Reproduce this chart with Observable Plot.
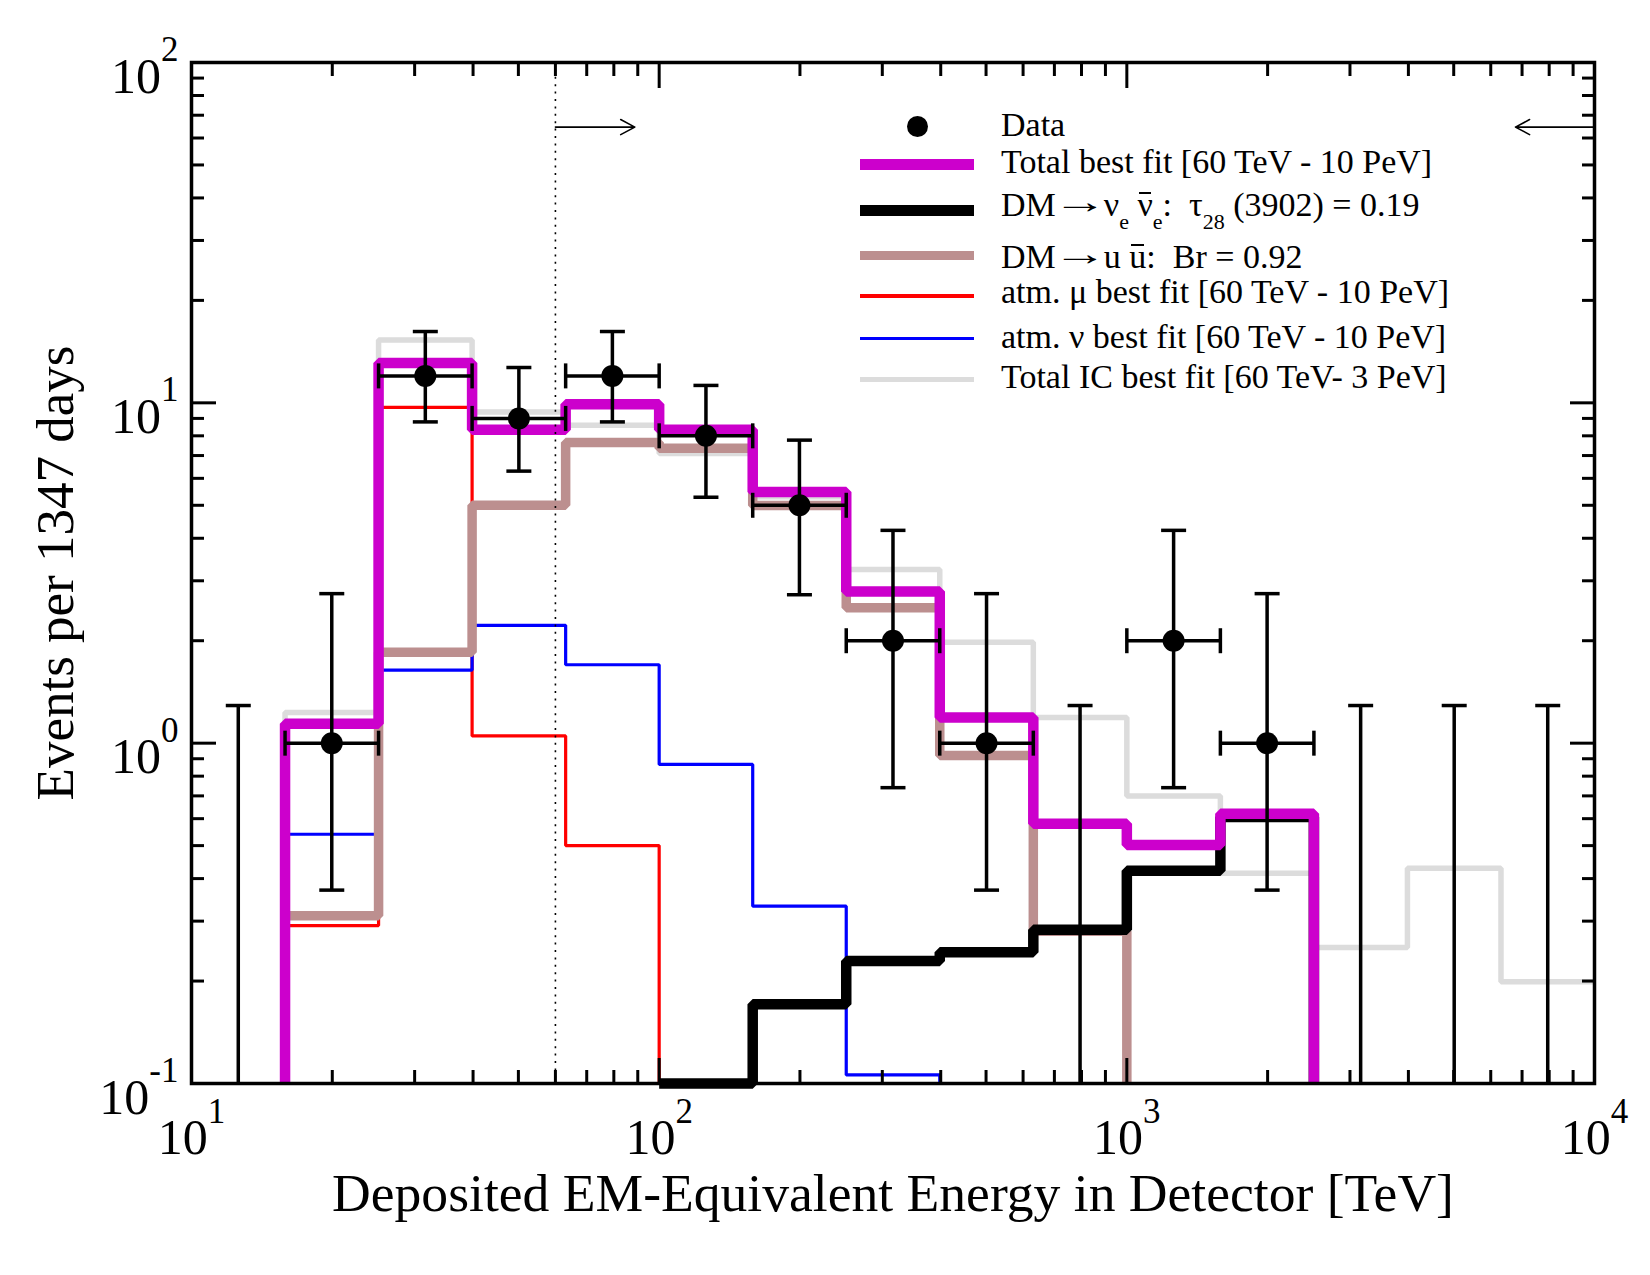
<!DOCTYPE html>
<html>
<head>
<meta charset="utf-8">
<script src="https://cdn.jsdelivr.net/npm/d3@7"></script>
<script src="https://cdn.jsdelivr.net/npm/@observablehq/plot@0.6"></script>
<style>
  html, body { margin: 0; padding: 0; background: #fff; }
  #chart { position: relative; width: 1650px; height: 1275px; font-family: "Liberation Serif", "Times New Roman", serif; }
  #chart svg { display: block; }
  #legend { position: absolute; left: 0; top: 0; width: 1650px; height: 1275px; pointer-events: none; }
  .ltext { position: absolute; left: 1001px; font-size: 34px; line-height: 34px; white-space: pre; color: #000; }
  .swatch { position: absolute; left: 860px; width: 114px; }
  .ldot { position: absolute; border-radius: 50%; background: #000; }
  .sub { font-size: 22px; line-height: 0; position: relative; top: 13px; }
  .arr { display: inline-block; margin: 0 7px; transform: translateY(-3px) scaleX(1.6); transform-origin: 50% 50%; }
  .ov { position: relative; }
  .ov::before { content: ""; position: absolute; left: 12%; right: 12%; top: 6px; border-top: 2.5px solid #000; }
</style>
</head>
<body>
<div id="chart"><div id="legend"></div></div>
<script>
// Energy bin edges [TeV]
const binEdges = [10, 15.85, 25.12, 39.81, 63.10, 100, 158.5, 251.2, 398.1, 631.0, 1000, 1585, 2512, 3981, 6310, 10000];

// Expected events per bin (null = nothing drawn in that bin)
const totalFit = [null, 1.14, 13.1, 8.33, 9.9, 8.33, 5.47, 2.79, 1.19, 0.58, 0.502, 0.62, null, null, null];
const dmNuNu   = [null, null, null, null, null, 0.1, 0.171, 0.229, 0.243, 0.283, 0.422, 0.607, null, null, null];
const dmUU     = [null, 0.311, 1.85, 5.0, 7.65, 7.35, 4.99, 2.50, 0.92, 0.28, null, null, null, null, null];
const atmMu    = [null, 0.291, 9.7, 1.05, 0.50, null, null, null, null, null, null, null, null, null, null];
const atmNu    = [null, 0.54, 1.64, 2.22, 1.70, 0.866, 0.332, 0.106, null, null, null, null, null, null, null];
const icFit    = [null, 1.23, 15.3, 9.4, 8.6, 7.1, 5.3, 3.24, 1.98, 1.19, 0.70, 0.415, 0.251, 0.429, 0.199];

// Observed events (bin centres) with 1-sigma intervals
const dataE  = [12.59, 19.95, 31.62, 50.12, 79.43, 125.9, 199.5, 316.2, 501.2, 794.3, 1259, 1995, 3162, 5012, 7943];
const counts = [0, 1, 12, 9, 12, 8, 5, 2, 1, 0, 2, 1, 0, 0, 0];
const errLo  = [null, 0.37, 8.79, 6.3, 8.79, 5.28, 2.73, 0.74, 0.37, null, 0.74, 0.37, null, null, null];
const errHi  = [1.29, 2.75, 16.2, 12.7, 16.2, 11.25, 7.77, 4.22, 2.75, 1.29, 4.22, 2.75, 1.29, 1.29, 1.29];

// Fit-range markers
const fitRangeStart = [60, 10000];
const fitRangeEnd   = [88.7, 6776];
const fitRangeLevel = 64.6;

// Axes
const xDomain = [10, 10000];
const yDomain = [0.1, 100];
const xMajor = [10, 100, 1000, 10000];
const xMinor = [20, 30, 40, 50, 60, 70, 80, 90, 200, 300, 400, 500, 600, 700, 800, 900, 2000, 3000, 4000, 5000, 6000, 7000, 8000, 9000];
const yMajor = [0.1, 1, 10, 100];
const yMinor = [0.2, 0.3, 0.4, 0.5, 0.6, 0.7, 0.8, 0.9, 2, 3, 4, 5, 6, 7, 8, 9, 20, 30, 40, 50, 60, 70, 80, 90];

const yFloor = yDomain[0];

// Turn per-bin values into a histogram outline
function steps(vals) {
  const pts = [];
  for (let i = 0; i < vals.length; i++) {
    const v = vals[i];
    if (v == null) continue;
    if (i === 0 || vals[i - 1] == null) pts.push({e: binEdges[i], v: yFloor});
    pts.push({e: binEdges[i], v});
    pts.push({e: binEdges[i + 1], v});
    if (i + 1 < vals.length && vals[i + 1] == null) pts.push({e: binEdges[i + 1], v: yFloor});
  }
  return pts;
}

const points = dataE.map((e, i) => ({
  e, n: counts[i], lo: errLo[i] == null ? yFloor : errLo[i], hi: errHi[i],
  x1: binEdges[i], x2: binEdges[i + 1]
}));
const measured = points.filter(d => d.n > 0);
const arrows = fitRangeStart.map((s, i) => ({x1: s, x2: fitRangeEnd[i], y: fitRangeLevel}));

// Cap glyphs for the error bars
const capH = {draw(ctx, size) { const r = Math.sqrt(size / Math.PI); ctx.moveTo(-r, 0); ctx.lineTo(r, 0); }};
const capV = {draw(ctx, size) { const r = Math.sqrt(size / Math.PI); ctx.moveTo(0, -r); ctx.lineTo(0, r); }};

const stepLine = (vals, stroke, strokeWidth) =>
  Plot.line(steps(vals), {x: "e", y: "v", stroke, strokeWidth, strokeLinejoin: "miter", strokeLinecap: "butt"});

const tickOpts = {fill: "none", label: null, stroke: "black", strokeWidth: 3, strokeLinecap: "butt"};
const expLabel = d => `10^${Math.round(Math.log10(d))}`;

const svg = Plot.plot({
  width: 1650,
  height: 1275,
  marginLeft: 191,
  marginRight: 56,
  marginTop: 62,
  marginBottom: 192,
  style: {fontFamily: "Liberation Serif, Times New Roman, serif", background: "white", overflow: "visible", color: "black"},
  x: {type: "log", domain: xDomain},
  y: {type: "log", domain: yDomain},
  marks: [
    stepLine(icFit, "#dcdcdc", 5.5),
    stepLine(atmMu, "#ff0000", 3.2),
    stepLine(atmNu, "#0000ff", 3.2),
    stepLine(dmUU, "#bc8f8f", 9.5),
    stepLine(dmNuNu, "#000000", 10.5),
    stepLine(totalFit, "#cc00cc", 10.5),
    Plot.ruleX([60], {stroke: "black", strokeWidth: 1.6, strokeDasharray: "2,5.4"}),
    // data error bars
    Plot.ruleY(measured, {y: "n", x1: "x1", x2: "x2", stroke: "black", strokeWidth: 3.5}),
    Plot.ruleX(points, {x: "e", y1: "lo", y2: "hi", stroke: "black", strokeWidth: 3.5}),
    Plot.dot(points, {x: "e", y: "hi", symbol: capH, r: 12.5, stroke: "black", strokeWidth: 3.5, fill: "none"}),
    Plot.dot(measured, {x: "e", y: "lo", symbol: capH, r: 12.5, stroke: "black", strokeWidth: 3.5, fill: "none"}),
    Plot.dot(measured, {x: "x1", y: "n", symbol: capV, r: 12.5, stroke: "black", strokeWidth: 3.5, fill: "none"}),
    Plot.dot(measured, {x: "x2", y: "n", symbol: capV, r: 12.5, stroke: "black", strokeWidth: 3.5, fill: "none"}),
    Plot.dot(measured, {x: "e", y: "n", r: 11, fill: "black", stroke: "none"}),
    // fit range
    Plot.arrow(arrows, {x1: "x1", x2: "x2", y1: "y", y2: "y", stroke: "black", strokeWidth: 1.6, headLength: 15, headAngle: 56}),
    // inward ticks on all four sides
    Plot.axisX(xMajor, {...tickOpts, anchor: "bottom", tickSize: 25, dy: -25}),
    Plot.axisX(xMinor, {...tickOpts, anchor: "bottom", tickSize: 13, dy: -13}),
    Plot.axisX(xMajor, {...tickOpts, anchor: "top", tickSize: 25, dy: 25}),
    Plot.axisX(xMinor, {...tickOpts, anchor: "top", tickSize: 13, dy: 13}),
    Plot.axisY(yMajor, {...tickOpts, anchor: "left", tickSize: 25, dx: 25}),
    Plot.axisY(yMinor, {...tickOpts, anchor: "left", tickSize: 13, dx: 13}),
    Plot.axisY(yMajor, {...tickOpts, anchor: "right", tickSize: 25, dx: -25}),
    Plot.axisY(yMinor, {...tickOpts, anchor: "right", tickSize: 13, dx: -13}),
    Plot.frame({stroke: "black", strokeWidth: 3.5}),
    // tick labels
    Plot.text(xMajor, {x: d => d, frameAnchor: "bottom", text: expLabel, textAnchor: "middle", lineAnchor: "bottom", dy: 70.5, fontSize: 50, fill: "black"}),
    Plot.text(yMajor, {y: d => d, frameAnchor: "left", text: expLabel, textAnchor: "end", lineAnchor: "bottom", dx: -13, dy: 30, fontSize: 50, fill: "black"}),
    // axis titles
    Plot.text(["Deposited EM-Equivalent Energy in Detector [TeV]"], {frameAnchor: "bottom", text: d => d, textAnchor: "middle", lineAnchor: "bottom", dy: 127, fontSize: 53.6, fill: "black"}),
    Plot.text(["Events per 1347 days"], {frameAnchor: "left", text: d => d, rotate: -90, textAnchor: "middle", lineAnchor: "bottom", dx: -119, fontSize: 53, fill: "black"})
  ]
});

// Power-of-ten labels: raise the exponent
const svgNS = "http://www.w3.org/2000/svg";
svg.querySelectorAll("text").forEach(t => {
  const m = /^10\^(-?\d+)$/.exec(t.textContent);
  if (!m) return;
  t.textContent = "10";
  const ts = document.createElementNS(svgNS, "tspan");
  ts.setAttribute("dy", "-31.5");
  ts.setAttribute("font-size", "35");
  ts.textContent = m[1];
  t.appendChild(ts);
});

const chart = document.getElementById("chart");
chart.insertBefore(svg, chart.firstChild);

// Legend
const legendLabels = [
  "Data",
  "Total best fit [60 TeV - 10 PeV]",
  "DM<span class=\"arr\">\u2192</span>\u03bd<span class=\"sub\">e</span> <span class=\"ov\">\u03bd</span><span class=\"sub\">e</span>:  \u03c4<span class=\"sub\">28</span> (3902) = 0.19",
  "DM<span class=\"arr\">\u2192</span>u <span class=\"ov\">u</span>:  Br = 0.92",
  "atm. \u03bc best fit [60 TeV - 10 PeV]",
  "atm. \u03bd best fit [60 TeV - 10 PeV]",
  "Total IC best fit [60 TeV- 3 PeV]"
];
const legendColors = [null, "#cc00cc", "#000000", "#bc8f8f", "#ff0000", "#0000ff", "#dcdcdc"];
const legendWidths = [null, 11, 11, 9, 3.5, 3.5, 5.5];
const legendSwatchY = [126, 164, 210.7, 255.7, 296, 338.3, 379.3];
const legendBaseline = [136.7, 173.3, 216.7, 268.3, 303.3, 348.3, 388.3];

const legend = document.getElementById("legend");
const fontPx = 34;
const ascentInLine = fontPx * (0.891 - (1.107 - 1) / 2);
legendLabels.forEach((html, i) => {
  if (legendColors[i] == null) {
    const dot = document.createElement("div");
    dot.className = "ldot";
    const r = 10.5;
    Object.assign(dot.style, {left: (917 - r) + "px", top: (legendSwatchY[i] - r) + "px", width: 2 * r + "px", height: 2 * r + "px"});
    legend.appendChild(dot);
  } else {
    const sw = document.createElement("div");
    sw.className = "swatch";
    const h = legendWidths[i];
    Object.assign(sw.style, {top: (legendSwatchY[i] - h / 2) + "px", height: h + "px", background: legendColors[i]});
    legend.appendChild(sw);
  }
  const tx = document.createElement("div");
  tx.className = "ltext";
  tx.style.top = (legendBaseline[i] - ascentInLine) + "px";
  tx.innerHTML = html;
  legend.appendChild(tx);
});
</script>
</body>
</html>
